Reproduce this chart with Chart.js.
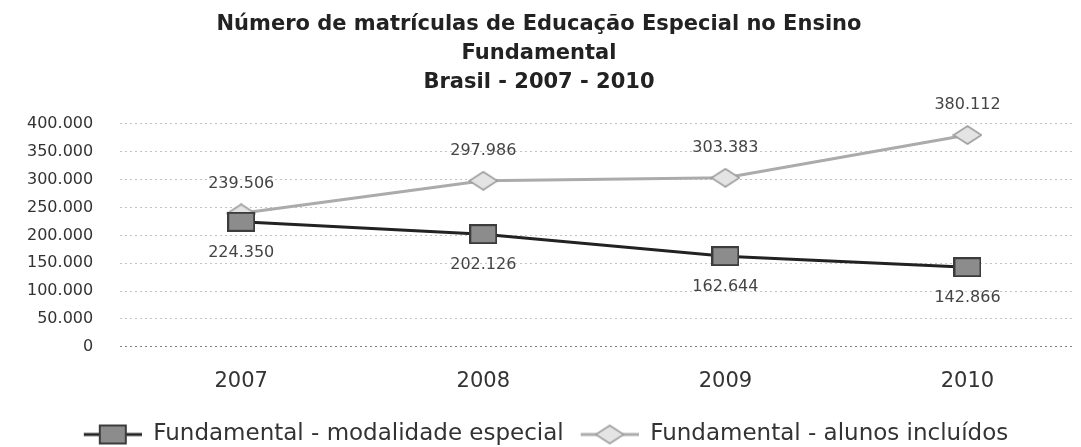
<!DOCTYPE html>
<html>
<head>
<meta charset="utf-8">
<script src="https://cdn.jsdelivr.net/npm/chart.js@4.4.0/dist/chart.umd.min.js"></script>
<style>
  html, body { margin: 0; padding: 0; background: #fff; }
  #wrap { width: 1081px; height: 447px; }
</style>
</head>
<body>
<div id="wrap"><canvas id="chart"></canvas></div>
<script>
// Data
const years = ['2007', '2008', '2009', '2010'];
const modalidadeEspecial = [224350, 202126, 162644, 142866];
const alunosIncluidos = [239506, 297986, 303383, 380112];
const titleLines = ['Número de matrículas de Educação Especial no Ensino', 'Fundamental', 'Brasil - 2007 - 2010'];
const seriesNames = ['Fundamental - modalidade especial', 'Fundamental - alunos incluídos'];

const FONT = "'DejaVu Sans', Verdana, sans-serif";

function fmt(v) {
  return v.toLocaleString('de-DE');
}

function toPoints(values) {
  return values.map((v, i) => ({ x: Number(years[i]), y: v }));
}

// marker images
function squareMarker() {
  const c = document.createElement('canvas');
  c.width = 28; c.height = 20;
  const g = c.getContext('2d');
  g.fillStyle = '#8c8c8c';
  g.fillRect(0, 0, 28, 20);
  g.strokeStyle = '#3c3c3c';
  g.lineWidth = 2;
  g.strokeRect(1, 1, 26, 18);
  return c;
}

function diamondMarker() {
  const c = document.createElement('canvas');
  c.width = 30; c.height = 20;
  const g = c.getContext('2d');
  g.beginPath();
  g.moveTo(15, 1); g.lineTo(29, 10); g.lineTo(15, 19); g.lineTo(1, 10); g.closePath();
  g.fillStyle = '#e4e4e4';
  g.fill();
  g.strokeStyle = '#9c9c9c';
  g.lineWidth = 1.5;
  g.stroke();
  return c;
}

// legend icon: line with the marker in the middle, blank gap on the left
function legendIcon(color, marker) {
  const c = document.createElement('canvas');
  c.width = 72; c.height = 22;
  const g = c.getContext('2d');
  g.strokeStyle = color;
  g.lineWidth = 3;
  g.beginPath(); g.moveTo(14, 11); g.lineTo(72, 11); g.stroke();
  g.drawImage(marker, 43 - marker.width / 2, 11 - marker.height / 2);
  return c;
}

const sqImg = squareMarker();
const dmImg = diamondMarker();

// value labels above / below the points
const valueLabels = {
  id: 'valueLabels',
  afterDatasetsDraw(chart) {
    const ctx = chart.ctx;
    ctx.save();
    ctx.font = '16px ' + FONT;
    ctx.fillStyle = '#444';
    ctx.textAlign = 'center';
    ctx.textBaseline = 'middle';
    chart.data.datasets.forEach((ds, i) => {
      const meta = chart.getDatasetMeta(i);
      const dy = i === 0 ? 31 : -30;
      meta.data.forEach((pt, j) => {
        ctx.fillText(fmt(ds.data[j].y), pt.x, pt.y + dy);
      });
    });
    ctx.restore();
  }
};

// push the legend a little lower, as in the picture
const legendShift = {
  id: 'legendShift',
  afterLayout(chart) {
    const lg = chart.legend;
    if (lg) {
      lg.top += 13;
      lg.bottom += 13;
    }
  }
};

new Chart(document.getElementById('chart'), {
  type: 'line',
  data: {
    datasets: [
      {
        label: seriesNames[0],
        data: toPoints(modalidadeEspecial),
        borderColor: '#222',
        borderWidth: 3,
        pointStyle: sqImg,
        tension: 0
      },
      {
        label: seriesNames[1],
        data: toPoints(alunosIncluidos),
        borderColor: '#ababab',
        borderWidth: 3,
        pointStyle: dmImg,
        tension: 0
      }
    ]
  },
  options: {
    responsive: true,
    maintainAspectRatio: false,
    animation: false,
    layout: { padding: { left: 0, right: 3, top: 0, bottom: 4 } },
    scales: {
      y: {
        min: 0,
        max: 400000,
        ticks: {
          stepSize: 50000,
          color: '#333',
          font: { family: FONT, size: 16 },
          padding: 27,
          callback: v => fmt(v)
        },
        grid: {
          color: ctx => ctx.tick && ctx.tick.value === 0 ? '#808080' : '#c4c4c4',
          drawTicks: false,
          lineWidth: 1
        },
        border: { display: false, dash: [2, 3] }
      },
      x: {
        type: 'linear',
        min: 2006.5,
        max: 2010.44,
        afterBuildTicks: scale => {
          scale.ticks = years.map(y => ({ value: Number(y) }));
        },
        afterFit: scale => {
          scale.height -= 9;
        },
        ticks: {
          color: '#333',
          font: { family: FONT, size: 21 },
          padding: 22,
          callback: v => String(v)
        },
        grid: { display: false, drawTicks: false },
        border: { display: false }
      }
    },
    plugins: {
      title: {
        display: true,
        text: titleLines,
        color: '#222',
        font: { family: FONT, size: 21, weight: 'bold', lineHeight: 1.38 },
        padding: { top: 10, bottom: 27 }
      },
      legend: {
        position: 'bottom',
        labels: {
          usePointStyle: true,
          pointStyleWidth: 72,
          padding: 3,
          color: '#333',
          font: { family: FONT, size: 23 },
          generateLabels(chart) {
            return chart.data.datasets.map((ds, i) => ({
              text: ds.label,
              pointStyle: legendIcon(ds.borderColor, i === 0 ? sqImg : dmImg),
              datasetIndex: i,
              fontColor: '#333',
              lineWidth: 0,
              strokeStyle: 'transparent',
              fillStyle: 'transparent'
            }));
          }
        }
      },
      tooltip: { enabled: false }
    }
  },
  plugins: [valueLabels, legendShift]
});
</script>
</body>
</html>
